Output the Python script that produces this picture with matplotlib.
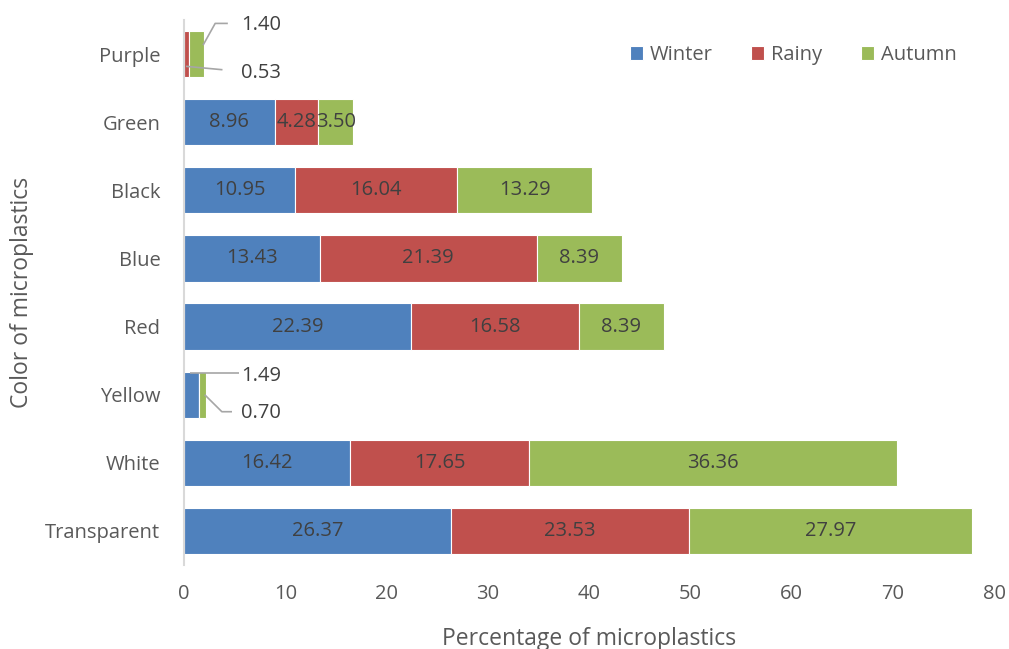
import matplotlib
matplotlib.use("Agg")
import matplotlib.pyplot as plt
import numpy as np

categories = ["Purple", "Green", "Black", "Blue", "Red", "Yellow", "White", "Transparent"]
winter = [0.00, 8.96, 10.95, 13.43, 22.39, 1.49, 16.42, 26.37]
rainy = [0.53, 4.28, 16.04, 21.39, 16.58, 0.00, 17.65, 23.53]
autumn = [1.40, 3.50, 13.29, 8.39, 8.39, 0.70, 36.36, 27.97]
seasons = ["Winter", "Rainy", "Autumn"]
colors = ["#4F81BD", "#C0504D", "#9BBB59"]
x_ticks = [0, 10, 20, 30, 40, 50, 60, 70, 80]

plt.rcParams["font.family"] = ["Open Sans", "DejaVu Sans"]

fig = plt.figure(figsize=(10.09, 6.49), dpi=100)
ax = fig.add_axes([184 / 1009, 1 - 565 / 649, 810 / 1009, 545 / 649])

y = np.arange(len(categories))
left = np.zeros(len(categories))
txt_color = "#404040"
label_fs = 14.5
for name, vals, c in zip(seasons, [winter, rainy, autumn], colors):
    vals = np.array(vals)
    ax.barh(y, vals, left=left, height=0.68, color=c, edgecolor="white",
            linewidth=0.8, label=name)
    for i, v in enumerate(vals):
        if v >= 3:
            ax.text(left[i] + v / 2, y[i], f"{v:.2f}", ha="center", va="center",
                    fontsize=label_fs, color=txt_color)
    left += vals

# callout labels for the thin bars, placed to the right of the bar
lead_kw = dict(color="#A6A6A6", lw=1.2, solid_capstyle="butt")
text_x = 5.65


def callout(value, pts, ty):
    xs, ys = zip(*pts)
    ax.plot(xs, ys, **lead_kw)
    ax.text(text_x, ty, f"{value:.2f}", fontsize=label_fs, color=txt_color,
            ha="left", va="center")


pi = categories.index("Purple")
p_end = rainy[pi] + autumn[pi]
callout(autumn[pi], [(p_end - 0.05, pi - 0.13), (p_end + 1.15, pi - 0.45),
                     (p_end + 2.4, pi - 0.45)], pi - 0.42)
callout(rainy[pi], [(0.2, pi + 0.18), (3.8, pi + 0.23)], pi + 0.28)

yi = categories.index("Yellow")
y_end = winter[yi] + autumn[yi]
callout(winter[yi], [(winter[yi] * 0.4, yi - 0.32), (5.4, yi - 0.32)], yi - 0.27)
callout(autumn[yi], [(y_end - 0.15, yi), (y_end + 1.55, yi + 0.25),
                     (y_end + 2.55, yi + 0.25)], yi + 0.27)

ax.set_ylim(len(categories) - 0.5, -0.5)
ax.set_xlim(0, 80)
ax.set_yticks(y)
ax.set_yticklabels(categories)
ax.set_xticks(x_ticks)
ax.tick_params(axis="both", length=0, labelsize=14.5, colors="#595959")
ax.tick_params(axis="y", pad=17)
ax.tick_params(axis="x", pad=14)
for s in ["top", "right", "bottom"]:
    ax.spines[s].set_visible(False)
ax.spines["left"].set_color("#D9D9D9")
ax.spines["left"].set_linewidth(1.5)

ax.set_xlabel("Percentage of microplastics", fontsize=16.5, color="#595959", labelpad=16)
ax.set_ylabel("Color of microplastics", fontsize=16.5, color="#595959", labelpad=8)

ax.legend(loc="center left", bbox_to_anchor=((630 - 184) / 810, (565 - 55) / 545),
          ncol=3, frameon=False, borderpad=0, borderaxespad=0,
          fontsize=14.5, labelcolor="#595959", handlelength=0.65, handleheight=0.65,
          handletextpad=0.35, columnspacing=1.9)

fig.savefig("out.png", dpi=100)
